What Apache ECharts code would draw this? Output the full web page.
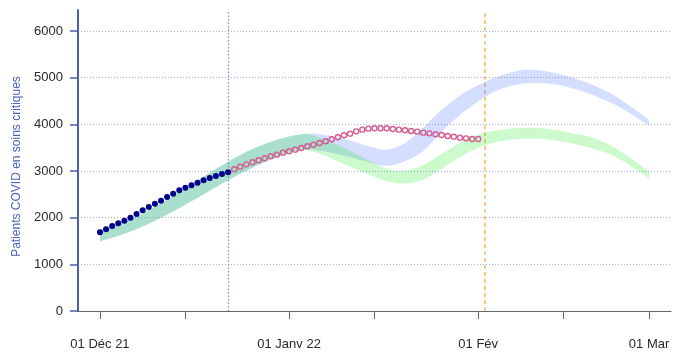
<!DOCTYPE html>
<html><head><meta charset="utf-8">
<script src="https://cdn.jsdelivr.net/npm/echarts@6/dist/echarts.min.js"></script>
<style>html,body{margin:0;padding:0;background:#fff}#c{width:676px;height:353px}</style>
</head><body><div id="c"></div>
<script>
// ---- data ----
const observedStart = '2021-12-01';
const observed = [1686,1750,1821,1879,1935,2000,2079,2157,2228,2300,2364,2443,2514,2585,2643,2693,2750,2800,2850,2893,2936,2971];
const projectedStart = '2021-12-23';
const projected = [3036,3093,3143,3186,3229,3272,3315,3350,3393,3422,3457,3493,3529,3564,3600,3636,3679,3722,3765,3800,3850,3886,3907,3915,3915,3915,3900,3886,3872,3857,3843,3822,3807,3786,3772,3750,3736,3714,3700,3686,3686];

const bandDates = ['2021-12-01','2021-12-04','2021-12-08','2021-12-13','2021-12-18','2021-12-22','2021-12-26','2021-12-30','2022-01-03','2022-01-06','2022-01-10','2022-01-14','2022-01-17','2022-01-20','2022-01-23','2022-01-26','2022-01-29','2022-02-01','2022-02-04','2022-02-08','2022-02-12','2022-02-16','2022-02-20','2022-02-24','2022-03-01'];
const blueLow   = [1490,1610,1810,2130,2500,2800,3070,3300,3450,3440,3330,3190,3110,3210,3430,3840,4200,4490,4720,4870,4880,4790,4620,4380,3970];
const blueHigh  = [1740,1870,2090,2470,2880,3200,3470,3670,3790,3790,3690,3530,3455,3600,3930,4310,4620,4840,5010,5160,5140,5020,4830,4560,4100];
const greenLow  = [1490,1610,1810,2130,2500,2800,3070,3300,3450,3370,3150,2930,2780,2730,2810,3050,3300,3500,3620,3690,3680,3600,3470,3270,2850];
const greenHigh = [1740,1870,2090,2470,2880,3200,3470,3670,3790,3720,3500,3230,3050,3010,3130,3370,3600,3780,3870,3920,3910,3820,3700,3450,2990];

const yTicks = [0,1000,2000,3000,4000,5000,6000];
const xTickDates = ['2021-12-01','2021-12-15','2022-01-01','2022-01-15','2022-02-01','2022-02-15','2022-03-01'];
const xLabelDates = ['2021-12-01','2022-01-01','2022-02-01','2022-03-01'];
const xLabels = ['01 Déc 21','01 Janv 22','01 Fév','01 Mar'];
const lastObservedDate = '2021-12-22';
const forecastDate = '2022-02-02';
const yAxisTitle = 'Patients COVID en soins critiques';

// ---- build ----
const DAY = 86400000;
const ts = s => new Date(s + 'T00:00:00').getTime();
const seq = (start, vals) => vals.map((v, i) => [ts(start) + i * DAY, v]);
const xMin = ts(xTickDates[0]) - 3.6 * DAY;
const xMax = ts(xTickDates[xTickDates.length - 1]) + 3.6 * DAY;
const labelTs = xLabelDates.map(ts);
const bandData = (low, high) => bandDates.map((d, i) => [ts(d), low[i], high[i]]);

// Catmull-Rom curve through pixel points, as cubic Bezier path commands
function curve(p) {
  let s = '';
  for (let i = 0; i < p.length - 1; i++) {
    const p0 = p[Math.max(i - 1, 0)], p1 = p[i], p2 = p[i + 1], p3 = p[Math.min(i + 2, p.length - 1)];
    const c1 = [p1[0] + (p2[0] - p0[0]) / 6, p1[1] + (p2[1] - p0[1]) / 6];
    const c2 = [p2[0] - (p3[0] - p1[0]) / 6, p2[1] - (p3[1] - p1[1]) / 6];
    s += 'C' + c1[0] + ',' + c1[1] + ' ' + c2[0] + ',' + c2[1] + ' ' + p2[0] + ',' + p2[1];
  }
  return s;
}
function bandRenderer(color) {
  return function (params, api) {
    if (params.dataIndexInside !== 0) return null;
    const n = params.dataInsideLength;
    const up = [], lo = [];
    for (let i = 0; i < n; i++) {
      const x = api.value(0, i);
      up.push(api.coord([x, api.value(2, i)]));
      lo.push(api.coord([x, api.value(1, i)]));
    }
    lo.reverse();
    const d = 'M' + up[0][0] + ',' + up[0][1] + curve(up) + 'L' + lo[0][0] + ',' + lo[0][1] + curve(lo) + 'Z';
    return {type: 'path', shape: {pathData: d}, style: {fill: color, stroke: null}};
  };
}

const FONT = '"Liberation Sans", Arial, Helvetica, sans-serif';
const chart = echarts.init(document.getElementById('c'), null, {renderer: 'canvas'});

chart.setOption({
  animation: false,
  backgroundColor: '#fff',
  grid: {left: 78, right: 5, top: 10, bottom: 42, containLabel: false, outerBoundsMode: 'none'},
  xAxis: {
    type: 'value', min: xMin, max: xMax, offset: 11, scale: true,
    axisLine: {show: true, lineStyle: {color: '#666', width: 1}},
    axisTick: {show: true, length: 8, lineStyle: {color: '#666', width: 1}, customValues: xTickDates.map(ts)},
    axisLabel: {
      show: true, margin: 16, color: '#2a2a2a', fontSize: 13, fontFamily: FONT,
      customValues: labelTs,
      formatter: v => { const i = labelTs.indexOf(v); return i >= 0 ? xLabels[i] : ''; }
    },
    splitLine: {show: false}
  },
  yAxis: {
    type: 'value', min: 0, max: 6450,
    name: yAxisTitle, nameLocation: 'middle', nameGap: 55,
    nameTextStyle: {color: '#4a63b8', fontSize: 12, fontFamily: FONT, padding: [0, 12, 0, 0]},
    axisLine: {show: true, lineStyle: {color: '#4a5fb0', width: 2}},
    axisTick: {show: true, length: 8, lineStyle: {color: '#4a5fb0', width: 1.5}, customValues: yTicks},
    axisLabel: {show: true, margin: 15, color: '#2a2a2a', fontSize: 13, fontFamily: FONT, customValues: yTicks,
      formatter: v => String(v)},
    splitLine: {show: false}
  },
  series: [
    {
      type: 'custom', data: bandData(blueLow, blueHigh), encode: {x: 0, y: [1, 2]},
      renderItem: bandRenderer('rgba(40,90,255,0.2)'), z: 1, silent: true, clip: true
    },
    {
      type: 'custom', data: bandData(greenLow, greenHigh), encode: {x: 0, y: [1, 2]},
      renderItem: bandRenderer('rgba(0,230,0,0.2)'), z: 1, silent: true, clip: true
    },
    {
      type: 'scatter', data: seq(projectedStart, projected), symbol: 'circle', symbolSize: 5,
      itemStyle: {color: 'rgba(255,255,255,0)', borderColor: '#d45c90', borderWidth: 1.4, opacity: 1}, z: 3,
      markLine: {
        silent: true, symbol: 'none', label: {show: false}, z: 0, animation: false,
        lineStyle: {color: '#a8a8f0', type: [1, 2], width: 1},
        data: yTicks.map(v => ({yAxis: v}))
      }
    },
    {
      type: 'scatter', data: seq(observedStart, observed), symbol: 'circle', symbolSize: 6,
      itemStyle: {color: '#00008b', opacity: 1}, z: 4,
      markLine: {
        silent: true, symbol: 'none', label: {show: false}, z: 0, animation: false,
        data: [
          {xAxis: ts(lastObservedDate), lineStyle: {color: '#8c8ce0', type: [1.5, 2], width: 1.3}},
          {xAxis: ts(forecastDate), lineStyle: {color: '#ffc27e', type: [4, 3], width: 1.8}}
        ]
      }
    }
  ]
});
</script>
</body></html>
